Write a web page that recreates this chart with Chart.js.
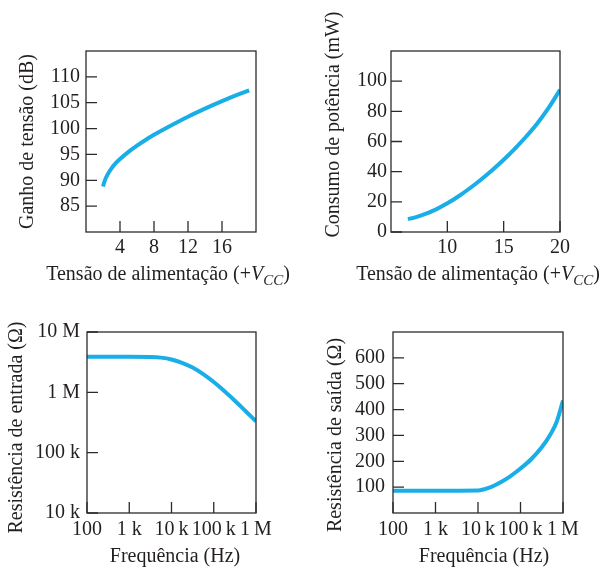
<!DOCTYPE html>
<html>
<head>
<meta charset="utf-8">
<script src="https://cdn.jsdelivr.net/npm/chart.js@4.4.0/dist/chart.umd.min.js"></script>
<style>
  body { margin: 0; background: #fff; width: 606px; height: 568px; position: relative; overflow: hidden; }
  canvas { position: absolute; }
</style>
</head>
<body>
<canvas id="ganho" width="303" height="290" style="left:0;top:0"></canvas>
<canvas id="potencia" width="303" height="290" style="left:303px;top:0"></canvas>
<canvas id="entrada" width="303" height="278" style="left:0;top:290px"></canvas>
<canvas id="saida" width="303" height="278" style="left:303px;top:290px"></canvas>
<script>
// ganho de tensão x Vcc
const vccGanho = [2, 2.2, 2.5, 3, 3.5, 4, 5, 6, 7, 8, 10, 12, 14, 16, 18, 19.2]
const ganhoDb = [88.8, 89.9, 91.0, 92.3, 93.3, 94.1, 95.5, 96.7, 97.8, 98.8, 100.6, 102.3, 103.85, 105.3, 106.65, 107.4]
const ganhoXTicks = [4, 8, 12, 16]
const ganhoYTicks = [85, 90, 95, 100, 105, 110]

// consumo de potência x Vcc
const vccPot = [6.5, 7, 8, 9, 10, 11, 12, 13, 14, 15, 16, 17, 18, 19, 20]
const potMw = [8.6, 9.4, 11.8, 15.0, 19.0, 23.7, 29.0, 34.8, 41.1, 47.9, 55.3, 63.3, 72.1, 82.4, 94.3]
const potXTicks = [10, 15, 20]
const potYTicks = [0, 20, 40, 60, 80, 100]

// resistência de entrada x frequência
const freqEnt = [100, 1000, 3160, 5620, 10000, 17800, 31600, 56200, 100000, 178000, 316000, 562000, 1000000]
const resEnt = [3.88e6, 3.88e6, 3.85e6, 3.76e6, 3.51e6, 3.09e6, 2.57e6, 2.0e6, 1.48e6, 1.05e6, 7.24e5, 4.9e5, 3.31e5]
const entYTicks = [1e4, 1e5, 1e6, 1e7]
const entYLabels = ['10 k', '100 k', '1 M', '10 M']

// resistência de saída x frequência
const freqSai = [100, 1000, 10000, 14100, 20000, 31600, 56200, 100000, 178000, 316000, 500000, 708000, 1000000]
const resSai = [86, 86, 87, 92, 100, 116, 141, 172, 208, 254, 303, 352, 435]
const saiYTicks = [100, 200, 300, 400, 500, 600]

const freqTicks = [100, 1000, 10000, 100000, 1000000]
const freqLabels = ['100', '1 k', '10\u2009k', '100\u2009k', '1\u2009M']

const ink = '#231f20'
const blue = '#19aee7'
const serif = '"Liberation Serif", "Times New Roman", serif'

const vccTitle = [
  { t: 'Tensão de alimentação (+', font: '20px ' + serif },
  { t: 'V', font: 'italic 20px ' + serif },
  { t: 'CC', font: 'italic 15px ' + serif, dy: 5 },
  { t: ')', font: '20px ' + serif }
]
const freqTitle = [{ t: 'Frequência (Hz)', font: '20px ' + serif }]

function drawParts(ctx, parts, cx, base) {
  let w = 0
  parts.forEach(p => { ctx.font = p.font; w += ctx.measureText(p.t).width })
  let x = cx - w / 2
  parts.forEach(p => {
    ctx.font = p.font
    ctx.fillText(p.t, x, base + (p.dy || 0))
    x += ctx.measureText(p.t).width
  })
}

// caixa, ticks para dentro e títulos
const moldura = {
  id: 'moldura',
  afterDraw(chart, args, opts) {
    const { ctx, chartArea: a, scales } = chart
    ctx.save()
    ctx.strokeStyle = '#2b2b2b'
    ctx.lineWidth = 1.3
    ctx.strokeRect(a.left, a.top, a.right - a.left, a.bottom - a.top)
    ctx.beginPath()
    scales.x.ticks.forEach(t => {
      const px = scales.x.getPixelForValue(t.value)
      ctx.moveTo(px, a.bottom)
      ctx.lineTo(px, a.bottom - 11)
    })
    scales.y.ticks.forEach(t => {
      const py = scales.y.getPixelForValue(t.value)
      ctx.moveTo(a.left, py)
      ctx.lineTo(a.left + 11, py)
    })
    ctx.stroke()

    ctx.fillStyle = ink
    ctx.textAlign = 'left'
    ctx.textBaseline = 'alphabetic'
    drawParts(ctx, opts.xTitle, opts.xCx, opts.xBase)
    ctx.translate(opts.yBase, opts.yCy)
    ctx.rotate(-Math.PI / 2)
    drawParts(ctx, [{ t: opts.yTitle, font: '20px ' + serif }], 0, 0)
    ctx.restore()
  }
}

function pts(xs, ys) {
  return xs.map((x, i) => ({ x: x, y: ys[i] }))
}

function axis(type, min, max, vals, labels, pad, size, horiz) {
  return {
    type: type, min: min, max: max,
    grid: { display: false, drawTicks: false },
    border: { display: false },
    afterBuildTicks: s => { s.ticks = vals.map(v => ({ value: v })) },
    afterFit: s => { if (horiz) s.height = size; else s.width = size },
    ticks: {
      autoSkip: false, maxRotation: 0, minRotation: 0, padding: pad,
      color: ink, font: { family: serif, size: 20 },
      callback: (v, i) => labels[i]
    }
  }
}

function grafico(id, xs, ys, xScale, yScale, pad, titles) {
  new Chart(document.getElementById(id), {
    type: 'line',
    data: {
      datasets: [{
        data: pts(xs, ys),
        borderColor: blue,
        borderWidth: 4,
        pointRadius: 0,
        fill: false,
        cubicInterpolationMode: 'monotone'
      }]
    },
    options: {
      responsive: false,
      animation: false,
      events: [],
      layout: { padding: pad },
      scales: { x: xScale, y: yScale },
      plugins: {
        legend: { display: false },
        tooltip: { enabled: false },
        moldura: titles
      }
    },
    plugins: [moldura]
  })
}

grafico('ganho', vccGanho, ganhoDb,
  axis('linear', 0, 20, ganhoXTicks, ganhoXTicks.map(String), 4, 58, true),
  axis('linear', 80, 115, ganhoYTicks, ganhoYTicks.map(String), 6, 86, false),
  { top: 51, right: 47, left: 0, bottom: 0 },
  { xTitle: vccTitle, xCx: 168, xBase: 280, yTitle: 'Ganho de tensão (dB)', yBase: 33, yCy: 141.5 })

grafico('potencia', vccPot, potMw,
  axis('linear', 5, 20, potXTicks, potXTicks.map(String), 4, 58, true),
  axis('linear', 0, 120, potYTicks, potYTicks.map(String), 4, 88, false),
  { top: 51, right: 46, left: 0, bottom: 0 },
  { xTitle: vccTitle, xCx: 175, xBase: 280, yTitle: 'Consumo de potência (mW)', yBase: 36, yCy: 124.5 })

grafico('entrada', freqEnt, resEnt,
  axis('logarithmic', 100, 1e6, freqTicks, freqLabels, 5, 55, true),
  axis('logarithmic', 1e4, 1e7, entYTicks, entYLabels, 7, 87, false),
  { top: 42, right: 47, left: 0, bottom: 0 },
  { xTitle: freqTitle, xCx: 175, xBase: 271.5, yTitle: 'Resistência de entrada (Ω)', yBase: 21.5, yCy: 137.5 })

grafico('saida', freqSai, resSai,
  axis('logarithmic', 100, 1e6, freqTicks, freqLabels, 5, 55, true),
  axis('linear', 0, 700, saiYTicks, saiYTicks.map(String), 8, 90, false),
  { top: 42, right: 43, left: 0, bottom: 0 },
  { xTitle: freqTitle, xCx: 181, xBase: 271.5, yTitle: 'Resistência de saída (Ω)', yBase: 38, yCy: 145 })
</script>
</body>
</html>
